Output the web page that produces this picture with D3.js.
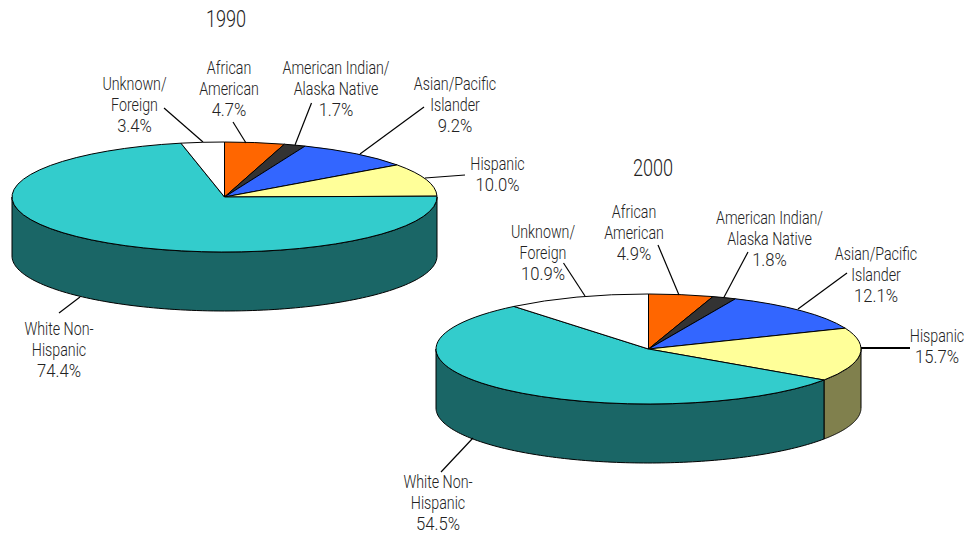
<!DOCTYPE html>
<html><head><meta charset="utf-8">
<script src="https://cdn.jsdelivr.net/npm/d3@7/dist/d3.min.js"></script>
<style>html,body{margin:0;background:#fff}svg{display:block}
text{font-family:Roboto,"Liberation Sans",sans-serif;font-weight:300;fill:#222;text-anchor:middle}</style>
</head><body><svg id="c" width="964" height="535"></svg>
<script>
const categories = ["African American","American Indian/Alaska Native","Asian/Pacific Islander","Hispanic","White Non-Hispanic","Unknown/Foreign"];
const labelLines = [["African","American"],["American Indian/","Alaska Native"],["Asian/Pacific","Islander"],["Hispanic"],["White Non-","Hispanic"],["Unknown/","Foreign"]];
const values1990 = [4.7,1.7,9.2,10.0,74.4,3.4];
const values2000 = [4.9,1.8,12.1,15.7,54.5,10.9];
const colors = ["#FF6600","#333333","#3366FF","#FFFF99","#33CCCC","#FFFFFF"];
const years = ["1990","2000"];

// layout only
const layouts = [
 {cx:224.5,cy:197,title:[226,27],
  labels:[[229,74],[336,74],[455,90],[497.5,170],[59,335],[134.5,90]],
  leaders:[[233,122,246,143],[311.5,103,295,145],[424,107,360,154],[465,175,425,178],[59,313,80,297],[164,108,203,142]]},
 {cx:648.5,cy:349,title:[653,176],
  labels:[[634,218],[769.5,224],[876,260],[937,342],[438,488],[543,238]],
  leaders:[[658,245,679,295],[748,252,723.6,298],[847,273,798,309],[910,348,861,348],[441,472,473,438],[563.5,263,585,296]]}
];
const rx=212.5, ry=55, depth=59, lineH=21, squeeze=0.77, pctSqueeze=0.9, titleSqueeze=0.74;

const svg=d3.select("#c");
const pie=d3.pie().sort(null).startAngle(0).endAngle(2*Math.PI);
const arc=d3.arc().innerRadius(0).outerRadius(rx);

[values1990,values2000].forEach((vals,i)=>{
  const L=layouts[i];
  const g=svg.append("g");
  const arcs=pie(vals);
  const x=d3.scaleLinear().domain([-1,1]).range([L.cx-rx,L.cx+rx]);
  const y=d3.scaleLinear().domain([-1,1]).range([L.cy-ry,L.cy+ry]);
  const rim=d3.line().x(d=>x(Math.sin(d[0]))).y(d=>y(-Math.cos(d[0]))+d[1]);

  arcs.forEach(a=>{
    const a0=Math.max(a.startAngle,Math.PI/2), a1=Math.min(a.endAngle,3*Math.PI/2);
    if(a1<=a0) return;
    const steps=d3.range(0,121).map(k=>a0+(a1-a0)*k/120);
    const pts=steps.map(t=>[t,0]).concat(steps.slice().reverse().map(t=>[t,depth]));
    const c=d3.rgb(colors[a.index]);
    g.append("path").attr("d",rim(pts)+"Z")
      .attr("fill",d3.rgb(Math.round(c.r/2),Math.round(c.g/2),Math.round(c.b/2)))
      .attr("stroke","#000").attr("stroke-width",1).attr("stroke-linejoin","round");
  });

  g.append("g").attr("transform",`translate(${L.cx},${L.cy}) scale(1,${ry/rx})`)
   .selectAll("path").data(arcs).join("path")
   .attr("d",arc).attr("fill",d=>colors[d.index])
   .attr("stroke","#000").attr("stroke-width",1).attr("vector-effect","non-scaling-stroke").attr("stroke-linejoin","round");

  g.selectAll("line").data(L.leaders).join("line")
   .attr("x1",d=>d[0]).attr("y1",d=>d[1]).attr("x2",d=>d[2]).attr("y2",d=>d[3])
   .attr("stroke","#000").attr("stroke-width",(d,k)=>(i===1&&k===3)?2:1.2);

  categories.forEach((cat,k)=>{
    const lines=labelLines[k].concat(vals[k].toFixed(1)+"%");
    lines.forEach((s,n)=>g.append("text").attr("font-size",18.5)
      .attr("transform",`translate(${L.labels[k][0]},${L.labels[k][1]+n*lineH}) scale(${n===lines.length-1?pctSqueeze:squeeze},1)`).text(s));
  });
  g.append("text").attr("font-size",24.5)
   .attr("transform",`translate(${L.title[0]},${L.title[1]}) scale(${titleSqueeze},1)`).text(years[i]);
});
</script></body></html>
